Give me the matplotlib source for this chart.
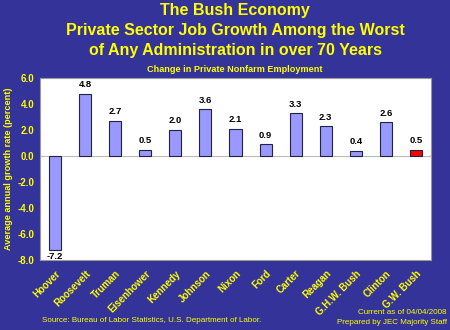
import matplotlib
matplotlib.use('Agg')
import matplotlib.pyplot as plt
import numpy as np

presidents = ['Hoover', 'Roosevelt', 'Truman', 'Eisenhower', 'Kennedy', 'Johnson',
              'Nixon', 'Ford', 'Carter', 'Reagan', 'G.H.W. Bush', 'Clinton', 'G.W. Bush']
growth = [-7.2, 4.8, 2.7, 0.5, 2.0, 3.6, 2.1, 0.9, 3.3, 2.3, 0.4, 2.6, 0.5]
yticks = [6.0, 4.0, 2.0, 0.0, -2.0, -4.0, -6.0, -8.0]

bg = '#333399'
yellow = '#FFFF00'
plt.rcParams['font.family'] = ['Liberation Sans', 'DejaVu Sans']

fig = plt.figure(figsize=(4.5, 3.3), dpi=100, facecolor=bg)
ax = fig.add_axes([40/450, 1 - 260/330, 391/450, 182/330])
ax.set_facecolor('white')

colors = ['#9999FF'] * (len(presidents) - 1) + ['#FF0000']
x = np.arange(len(presidents))
ax.bar(x, growth, width=0.4, color=colors, edgecolor='#222244', linewidth=0.8, zorder=3)
ax.axhline(0, color='#bbbbbb', linewidth=0.8, zorder=2)

for xi, v in zip(x, growth):
    if v >= 0:
        ax.text(xi, v + 0.35, f'{v:.1f}', ha='center', va='bottom', fontsize=6.8, fontweight='bold', color='black')
    else:
        ax.text(xi, v - 0.15, f'{v:.1f}', ha='center', va='top', fontsize=6.8, fontweight='bold', color='black')

ax.set_xlim(-0.5, len(presidents) - 0.5)
ax.set_ylim(-8, 6)
ax.set_yticks(yticks)
ax.set_yticklabels([f'{t:.1f}' for t in yticks], fontsize=7, fontweight='bold', color=yellow)
ax.set_xticks(x)
ax.set_xticklabels(presidents, rotation=45, ha='right', rotation_mode='anchor',
                   fontsize=7, fontweight='bold', color=yellow)
ax.tick_params(length=0, pad=4)
ax.tick_params(axis='x', pad=6)
for s in ax.spines.values():
    s.set_color('#999999')
    s.set_linewidth(0.8)
ax.set_ylabel('Average annual growth rate (percent)', fontsize=6.6, fontweight='bold', color=yellow, labelpad=3)

tx = 235/450
fig.text(tx, 1 - 11/330, 'The Bush Economy', ha='center', va='center', fontsize=11.5, fontweight='bold', color=yellow)
fig.text(tx, 1 - 30/330, 'Private Sector Job Growth Among the Worst', ha='center', va='center', fontsize=11.5, fontweight='bold', color=yellow)
fig.text(tx, 1 - 50/330, 'of Any Administration in over 70 Years', ha='center', va='center', fontsize=11.5, fontweight='bold', color=yellow)
fig.text(tx, 1 - 69/330, 'Change in Private Nonfarm Employment', ha='center', va='center', fontsize=6.6, fontweight='bold', color=yellow)

fig.text(152/450, 1 - 321/330, 'Source: Bureau of Labor Statistics, U.S. Department of Labor.', ha='center', va='center', fontsize=5.8, color=yellow)
fig.text(447/450, 1 - 313/330, 'Current as of 04/04/2008', ha='right', va='center', fontsize=5.8, color=yellow)
fig.text(447/450, 1 - 323/330, 'Prepared by JEC Majority Staff', ha='right', va='center', fontsize=5.8, color=yellow)

fig.savefig('out.png', dpi=100, facecolor=bg)
